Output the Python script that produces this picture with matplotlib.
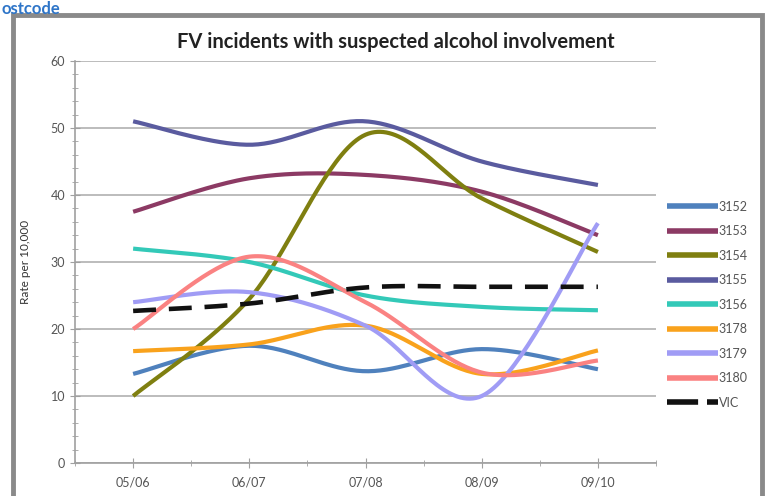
import numpy as np
import matplotlib
matplotlib.use("Agg")
import matplotlib.pyplot as plt
from matplotlib.patches import Rectangle
from matplotlib.ticker import MultipleLocator

plt.rcParams['font.family'] = ['Lato', 'DejaVu Sans']

# ── data ────────────────────────────────────────────────────────────
years = ['05/06', '06/07', '07/08', '08/09', '09/10']
s3152 = [13.3, 17.5, 13.7, 17.0, 14.0]
s3153 = [37.5, 42.5, 43.0, 40.5, 34.0]
s3154 = [10.0, 24.5, 49.0, 39.5, 31.5]
s3155 = [51.0, 47.5, 51.0, 45.0, 41.5]
s3156 = [32.0, 30.0, 25.0, 23.3, 22.8]
s3178 = [16.7, 17.7, 20.5, 13.3, 16.8]
s3179 = [24.0, 25.5, 20.5, 10.0, 35.8]
s3180 = [20.0, 30.8, 24.0, 13.5, 15.3]
vic = [22.7, 23.8, 26.2, 26.3, 26.3]

series = [
    ('3152', s3152, '#4f81bd', '-'),
    ('3153', s3153, '#8c3a64', '-'),
    ('3154', s3154, '#7f7f10', '-'),
    ('3155', s3155, '#5a5b9f', '-'),
    ('3156', s3156, '#33c9b8', '-'),
    ('3178', s3178, '#f9a21c', '-'),
    ('3179', s3179, '#a09cf5', '-'),
    ('3180', s3180, '#fa8282', '-'),
    ('VIC', vic, '#111111', '--'),
]


def excel_smooth(x, y, n=40):
    """Excel-style smoothed line: cubic Bezier, control points from neighbours / 6."""
    pts = np.column_stack([x, y]).astype(float)
    p = np.vstack([pts[0], pts, pts[-1]])
    out = [pts[0]]
    t = np.linspace(0, 1, n)[1:, None]
    for i in range(1, len(p) - 2):
        p0, p1, p2, p3 = p[i - 1], p[i], p[i + 1], p[i + 2]
        c1 = p1 + (p2 - p0) / 6
        c2 = p2 - (p3 - p1) / 6
        seg = ((1 - t) ** 3) * p1 + 3 * ((1 - t) ** 2) * t * c1 \
            + 3 * (1 - t) * t ** 2 * c2 + t ** 3 * p2
        out.extend(seg)
    out = np.array(out)
    return out[:, 0], out[:, 1]


fig = plt.figure(figsize=(7.68, 4.96), dpi=100)
ax = fig.add_axes([0.0977, 0.0665, 0.7565, 0.8105])

# chart area border
fig.patches.append(Rectangle((0.017, -0.05), 0.975, 1.02, transform=fig.transFigure,
                             fill=False, edgecolor='#8a8a8a', lw=3.5))
fig.text(0.002, 0.998, 'ostcode', color='#2e75c8', fontsize=12, fontweight='bold',
         ha='left', va='top')

x = np.arange(len(years))
for name, vals, col, ls in series:
    xs, ys = excel_smooth(x, vals)
    if ls == '--':
        ax.plot(xs, ys, color=col, lw=3.3, ls=(0, (5.0, 2.8)), label=name, zorder=3)
    else:
        ax.plot(xs, ys, color=col, lw=3, label=name, solid_capstyle='butt')

ax.set_xlim(-0.5, 4.5)
ax.set_ylim(0, 60)
ax.yaxis.set_major_locator(MultipleLocator(10))
ax.yaxis.set_minor_locator(MultipleLocator(2))
ax.set_xticks(x)
ax.set_xticklabels(years)
ax.set_xticks(np.arange(-0.5, 5, 1), minor=True)
ax.grid(axis='y', color='#b0b0b0', lw=1.2)
ax.set_axisbelow(True)
for sp in ['top', 'right']:
    ax.spines[sp].set_visible(False)
for sp in ['left', 'bottom']:
    ax.spines[sp].set_color('#a0a0a0')
    ax.spines[sp].set_linewidth(1.2)
ax.tick_params(which='both', direction='inout', color='#a0a0a0', labelcolor='#555555',
               labelsize=9)
ax.tick_params(which='major', length=7)
ax.tick_params(which='minor', length=4)
ax.tick_params(axis='x', pad=6)

fig.text(0.516, 0.915, 'FV incidents with suspected alcohol involvement', fontsize=14.5,
         fontweight='bold', color='#222222', ha='center', va='center')
ax.set_ylabel('Rate per 10,000', fontsize=8.5, color='#333333', labelpad=14)

leg = ax.legend(loc='upper left', bbox_to_anchor=(1.01, 0.665), frameon=False,
                fontsize=9, handlelength=4.1, handletextpad=0.05, labelspacing=1.0,
                borderaxespad=0)
for t in leg.get_texts():
    t.set_color('#555555')
for h in leg.get_lines():
    h.set_linewidth(4)
leg.get_lines()[-1].set_linestyle((0, (5.6, 1.6)))

fig.savefig('out.png', dpi=100)
